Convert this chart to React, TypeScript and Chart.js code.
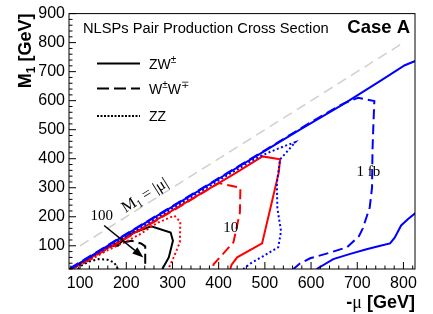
import React, { useEffect, useRef } from 'react';
import { Chart, registerables } from 'chart.js';

Chart.register(...registerables);

// ---- axes ----
const X_MIN = 76;
const X_MAX = 825;
const Y_MIN = 20;
const Y_MAX = 900;
const X_TICKS = [100, 200, 300, 400, 500, 600, 700, 800];
const Y_TICKS = [100, 200, 300, 400, 500, 600, 700, 800, 900];

// ---- contours [ -mu, M1 ] ----
// 1 fb (blue)
const ZW_1FB_UPPER: [number, number][] = [[78, 20], [200, 139], [300, 235], [400, 331], [500, 427], [576, 500], [670, 588], [750, 668], [803, 722], [826, 737]];
const ZW_1FB_LOWER: [number, number][] = [[612, 20], [648, 54], [685, 72], [720, 88], [750, 100], [771, 108], [781, 128], [795, 170], [810, 192], [826, 213]];
const WW_1FB: [number, number][] = [[78, 22], [200, 141], [300, 237], [400, 333], [500, 429], [600, 526], [670, 590], [702, 610], [737, 599], [735, 520], [733, 430], [732, 300], [727, 232], [712, 160], [704, 134], [678, 95], [640, 76], [598, 57], [575, 38], [562, 20]];
const ZZ_1FB: [number, number][] = [[80, 20], [200, 133], [300, 229], [400, 325], [480, 401], [512, 424], [545, 445], [566, 457], [550, 428], [533, 398], [526, 318], [527, 230], [535, 150], [529, 95], [495, 63], [470, 40], [453, 20]];
// 10 fb (red)
const ZW_10FB: [number, number][] = [[78, 18], [200, 128], [300, 222], [432, 346], [495, 408], [533, 398], [530, 352], [515, 250], [494, 108], [440, 60], [428, 35], [425, 20]];
const WW_10FB: [number, number][] = [[80, 18], [200, 126], [300, 220], [400, 316], [447, 300], [446, 215], [432, 112], [389, 36], [386, 20]];
const ZZ_10FB: [number, number][] = [[80, 18], [120, 50], [160, 85], [200, 115], [230, 140], [266, 178], [304, 204], [317, 182], [316, 112], [302, 58], [291, 20]];
// 100 fb (black)
const ZW_100FB: [number, number][] = [[78, 18], [120, 58], [150, 88], [165, 100], [182, 100], [190, 115], [208, 140], [254, 167], [296, 146], [301, 117], [292, 60], [278, 20]];
const WW_100FB: [number, number][] = [[80, 18], [120, 55], [160, 92], [185, 110], [212, 117], [232, 108], [241, 98], [241, 20]];
const ZZ_100FB: [number, number][] = [[95, 20], [103, 32], [120, 46], [140, 54], [160, 52], [174, 42], [182, 20]];
// M1 = |mu|
const DIAGONAL: [number, number][] = [[100, 100], [800, 800]];

// ---- annotations (data coords) ----
const LABEL_100: [number, number] = [147, 207];
const LABEL_10: [number, number] = [426, 166];
const LABEL_1FB: [number, number] = [724, 356];
const LABEL_DIAG: [number, number] = [240, 275];
const ARROW_FROM: [number, number] = [152, 170];
const ARROW_TO: [number, number] = [237, 60];

const SANS = '"Liberation Sans", Arial, Helvetica, sans-serif';
const SERIF = '"Liberation Serif", "Times New Roman", serif';

const BLUE = '#0000ff';
const RED = '#ff0000';
const BLACK = '#000000';
const DASH = [10, 5];
const DOT = [2, 2.5];

type Part = { text: string; font: string; dy?: number };

function drawParts(ctx: CanvasRenderingContext2D, parts: Part[], x: number, y: number, align: 'left' | 'right' | 'center') {
  const widths = parts.map((p) => {
    ctx.font = p.font;
    return ctx.measureText(p.text).width;
  });
  const total = widths.reduce((a, b) => a + b, 0);
  let cx = align === 'left' ? x : align === 'right' ? x - total : x - total / 2;
  ctx.textAlign = 'left';
  parts.forEach((p, i) => {
    ctx.font = p.font;
    ctx.fillText(p.text, cx, y + (p.dy || 0));
    cx += widths[i];
  });
}

const toXY = (pts: [number, number][]) => pts.map(([x, y]) => ({ x, y }));

function ds(pts: [number, number][], color: string, dash: number[], width = 2) {
  return {
    data: toXY(pts),
    showLine: true,
    borderColor: color,
    backgroundColor: color,
    borderWidth: width,
    borderDash: dash,
    pointRadius: 0,
    pointHoverRadius: 0,
    tension: 0,
    fill: false,
    clip: 0,
  };
}

const overlayPlugin = {
  id: 'overlay',
  afterDraw(chart: any) {
    const { ctx, chartArea } = chart;
    const { left, right, top, bottom } = chartArea;
    const xs = chart.scales.x;
    const ys = chart.scales.y;
    const px = (v: number) => xs.getPixelForValue(v);
    const py = (v: number) => ys.getPixelForValue(v);
    ctx.save();
    ctx.fillStyle = '#000';
    ctx.strokeStyle = '#000';
    ctx.setLineDash([]);

    // frame
    ctx.lineWidth = 1;
    ctx.strokeRect(left, top, right - left, bottom - top);

    // inner ticks
    ctx.beginPath();
    for (let v = 80; v <= 820; v += 20) {
      const p = px(v);
      if (p < left || p > right) continue;
      const len = v % 100 === 0 ? 7 : 3.5;
      ctx.moveTo(p, bottom);
      ctx.lineTo(p, bottom - len);
    }
    for (let v = 20; v <= 900; v += 20) {
      const p = py(v);
      if (p < top - 0.5 || p > bottom) continue;
      const len = v % 100 === 0 ? 7 : 3.5;
      ctx.moveTo(left, p);
      ctx.lineTo(left + len, p);
    }
    ctx.stroke();

    // header
    ctx.textBaseline = 'alphabetic';
    ctx.textAlign = 'left';
    ctx.font = `14.7px ${SANS}`;
    ctx.fillText('NLSPs Pair Production Cross Section', 83, 32.5);
    ctx.textAlign = 'right';
    ctx.font = `bold 18.5px ${SANS}`;
    ctx.fillText('Case A', 410, 33);

    // legend
    const legendRows: { y: number; dash: number[]; parts: Part[] }[] = [
      { y: 63.5, dash: [], parts: [{ text: 'ZW', font: `14px ${SANS}` }, { text: '±', font: `10px ${SANS}`, dy: -6 }] },
      {
        y: 88.5,
        dash: [12, 5],
        parts: [
          { text: 'W', font: `14px ${SANS}` },
          { text: '±', font: `10px ${SANS}`, dy: -6 },
          { text: 'W', font: `14px ${SANS}` },
          { text: '∓', font: `10px ${SANS}`, dy: -6 },
        ],
      },
      { y: 116, dash: [2, 1.5], parts: [{ text: 'ZZ', font: `14px ${SANS}` }] },
    ];
    legendRows.forEach((r) => {
      ctx.lineWidth = 2;
      ctx.setLineDash(r.dash);
      ctx.beginPath();
      ctx.moveTo(97, r.y);
      ctx.lineTo(140, r.y);
      ctx.stroke();
      ctx.setLineDash([]);
      drawParts(ctx, r.parts, 149, r.y + 5, 'left');
    });

    // contour labels
    ctx.font = `15px ${SERIF}`;
    drawParts(ctx, [{ text: '100', font: `15px ${SERIF}` }], px(LABEL_100[0]), py(LABEL_100[1]) + 5, 'center');
    drawParts(ctx, [{ text: '10', font: `15px ${SERIF}` }], px(LABEL_10[0]), py(LABEL_10[1]) + 5, 'center');
    drawParts(ctx, [{ text: '1 fb', font: `15px ${SERIF}` }], px(LABEL_1FB[0]), py(LABEL_1FB[1]) + 5, 'center');

    // diagonal label
    const a0 = Math.atan2(py(LABEL_DIAG[1] + 100) - py(LABEL_DIAG[1]), px(LABEL_DIAG[0] + 100) - px(LABEL_DIAG[0]));
    ctx.save();
    ctx.translate(px(LABEL_DIAG[0]), py(LABEL_DIAG[1]));
    ctx.rotate(a0);
    drawParts(
      ctx,
      [
        { text: 'M', font: `16px ${SERIF}` },
        { text: '1', font: `11px ${SERIF}`, dy: 3 },
        { text: ' = |μ|', font: `16px ${SERIF}` },
      ],
      0,
      5,
      'center'
    );
    ctx.restore();

    // arrow
    const ax0 = px(ARROW_FROM[0]);
    const ay0 = py(ARROW_FROM[1]);
    const ax1 = px(ARROW_TO[0]);
    const ay1 = py(ARROW_TO[1]);
    const ang = Math.atan2(ay1 - ay0, ax1 - ax0);
    const hl = 11;
    const hw = 4;
    ctx.lineWidth = 1.5;
    ctx.beginPath();
    ctx.moveTo(ax0, ay0);
    ctx.lineTo(ax1 - Math.cos(ang) * hl, ay1 - Math.sin(ang) * hl);
    ctx.stroke();
    ctx.beginPath();
    ctx.moveTo(ax1, ay1);
    ctx.lineTo(ax1 - Math.cos(ang) * hl - Math.sin(ang) * hw, ay1 - Math.sin(ang) * hl + Math.cos(ang) * hw);
    ctx.lineTo(ax1 - Math.cos(ang) * hl + Math.sin(ang) * hw, ay1 - Math.sin(ang) * hl - Math.cos(ang) * hw);
    ctx.closePath();
    ctx.fill();

    // axis titles
    drawParts(
      ctx,
      [
        { text: '-', font: `bold 18px ${SANS}` },
        { text: 'μ', font: `18px ${SERIF}` },
        { text: ' [GeV]', font: `bold 18px ${SANS}` },
      ],
      right,
      308,
      'right'
    );
    ctx.save();
    ctx.translate(31, top);
    ctx.rotate(-Math.PI / 2);
    drawParts(
      ctx,
      [
        { text: 'M', font: `bold 18px ${SANS}` },
        { text: '1', font: `bold 12px ${SANS}`, dy: 4 },
        { text: ' [GeV]', font: `bold 18px ${SANS}` },
      ],
      0,
      0,
      'right'
    );
    ctx.restore();

    ctx.restore();
  },
};

export default function App() {
  const ref = useRef<HTMLCanvasElement | null>(null);
  useEffect(() => {
    if (!ref.current) return;
    const chart = new Chart(ref.current, {
      type: 'scatter',
      data: {
        datasets: [
          ds(ZW_1FB_UPPER, BLUE, []),
          ds(ZW_1FB_LOWER, BLUE, []),
          ds(WW_1FB, BLUE, DASH),
          ds(ZZ_1FB, BLUE, DOT),
          ds(ZW_10FB, RED, []),
          ds(WW_10FB, RED, DASH),
          ds(ZZ_10FB, RED, DOT),
          ds(ZW_100FB, BLACK, []),
          ds(WW_100FB, BLACK, DASH),
          ds(ZZ_100FB, BLACK, DOT),
          ds(DIAGONAL, '#cfcfcf', [10, 6], 1.5),
        ] as any,
      },
      options: {
        animation: false,
        responsive: true,
        maintainAspectRatio: false,
        layout: { padding: { top: 13, right: 18, left: 0, bottom: 0 } },
        plugins: { legend: { display: false }, tooltip: { enabled: false }, title: { display: false } },
        events: [],
        scales: {
          x: {
            type: 'linear',
            min: X_MIN,
            max: X_MAX,
            afterBuildTicks: (axis: any) => {
              axis.ticks = X_TICKS.map((v) => ({ value: v }));
            },
            afterFit: (axis: any) => {
              axis.height = 45;
            },
            grid: { display: false, drawTicks: false },
            border: { display: false },
            ticks: {
              autoSkip: false,
              maxRotation: 0,
              padding: 5,
              color: '#000',
              font: { family: SANS, size: 16 },
            },
          },
          y: {
            type: 'linear',
            min: Y_MIN,
            max: Y_MAX,
            afterBuildTicks: (axis: any) => {
              axis.ticks = Y_TICKS.map((v) => ({ value: v }));
            },
            afterFit: (axis: any) => {
              axis.width = 69;
            },
            grid: { display: false, drawTicks: false },
            border: { display: false },
            ticks: {
              autoSkip: false,
              padding: 4,
              color: '#000',
              font: { family: SANS, size: 16 },
            },
          },
        },
      } as any,
      plugins: [overlayPlugin],
    });
    return () => chart.destroy();
  }, []);
  return (
    <div style={{ position: 'fixed', left: 0, top: 0, width: 433, height: 314, background: '#fff' }}>
      <canvas ref={ref} />
    </div>
  );
}
